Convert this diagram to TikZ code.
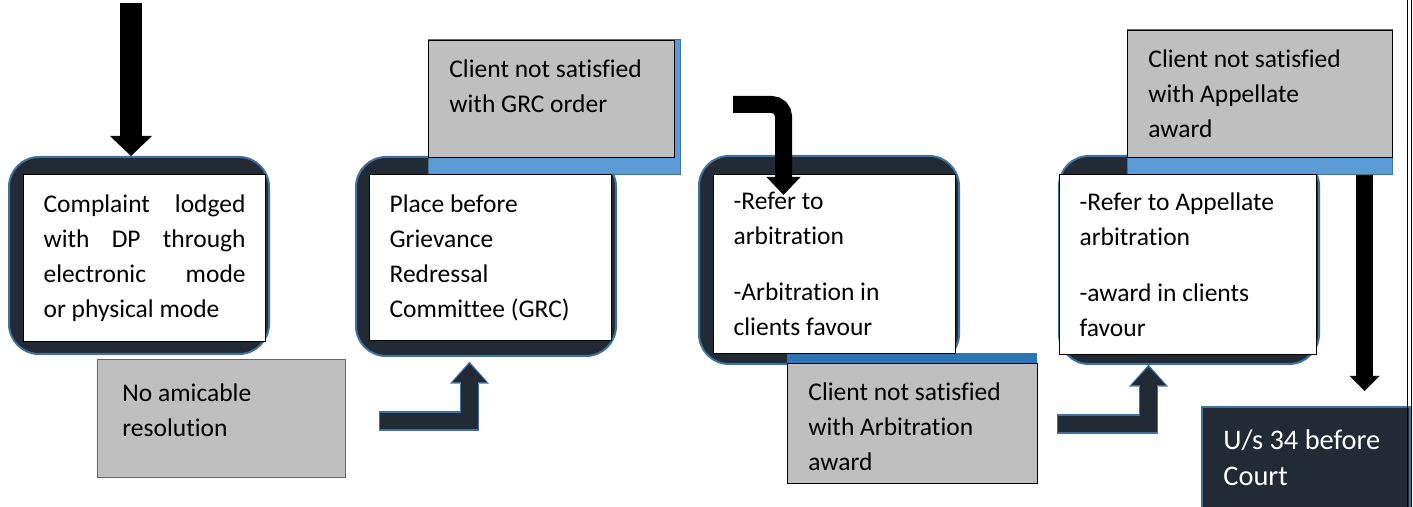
\documentclass[tikz,border=0pt]{standalone}
\usepackage{fontspec}
\setmainfont{Carlito}[Ligatures={NoCommon,NoContextual}]
\usetikzlibrary{arrows.meta}
\definecolor{panel}{HTML}{222A35}
\definecolor{rim}{HTML}{41719C}
\definecolor{strip}{HTML}{5B9BD5}
\definecolor{stripdark}{HTML}{2E75B6}
\definecolor{shade}{HTML}{BFBFBF}

\begin{document}
\begin{tikzpicture}[x=0.5pt,y=-0.5pt,
    font=\fontsize{12.75pt}{17.5pt}\selectfont,
    back/.style={draw=rim, line width=1pt, fill=panel, rounded corners=15pt,
      minimum width=130pt, anchor=north west, inner sep=0pt},
    card/.style={draw=black, line width=0.6pt, fill=white, anchor=north west,
      inner xsep=10pt, text width=101pt, align=flush left},
    note/.style={draw=black, line width=0.6pt, fill=shade, anchor=north west, inner sep=0pt},
    notetext/.style={anchor=north west, inner sep=0pt, align=flush left, xshift=10.5pt, yshift=-9.5pt},
    bigarrow/.style={draw=black, line join=miter},
    bentarrow/.style={draw=panel, line width=8.25pt, line join=miter,
      -{Triangle[width=17pt,length=9pt,line width=0pt]},
      preaction={draw=rim, line width=9.75pt, shorten <=-0.75pt, shorten >=-1.2pt,
        -{Triangle[width=19.5pt,length=11pt,line width=0pt]}}}]
  \clip (0,0) rectangle (1413,507);

  \node[back, minimum height=98.5pt] (back1) at (8,156) {};
  \node[back, minimum height=99.5pt] (back2) at (355,156) {};
  \node[back, minimum height=104pt] (back3) at (698,155) {};
  \node[back, minimum height=104pt] (back4) at (1058,155) {};

  \filldraw[fill=strip, draw=rim, line width=0.5pt] (428,40) rectangle (680,175);
  \fill[stripdark] (787,353) rectangle (1037,483);
  \filldraw[fill=strip, draw=rim, line width=0.5pt] (1127,30) rectangle (1392,175);

  \node[card, minimum height=83.5pt] (card1) at (23,174)
    {Complaint\hfill lodged\\with\hfill DP\hfill through\\electronic\hfill mode\\or physical mode};
  \node[card, minimum height=83pt] (card2) at (369,174)
    {Place before\\Grievance\\Redressal\\Committee (GRC)};
  \node[card, minimum height=89.5pt] (card3) at (713,174)
    {-Refer to\\arbitration\\[10.5pt]-Arbitration in\\clients favour};
  \node[card, minimum height=90pt, text width=108.5pt] (card4) at (1059,174)
    {-Refer to Appellate\\arbitration\\[10.5pt]-award in clients\\favour};

  \node[note, draw=rim, minimum width=124pt, minimum height=59pt,
    label={[notetext, xshift=2pt, yshift=-2.5pt]north west:No amicable\\resolution}] (noamic) at (97,359) {};
  \node[note, minimum width=123pt, minimum height=58.5pt,
    label={[notetext]north west:Client not satisfied\\with GRC order}] (grc) at (428,40) {};
  \node[note, minimum width=125pt, minimum height=60pt,
    label={[notetext]north west:Client not satisfied\\with Arbitration\\award}] (arbaward) at (787,363) {};
  \node[note, minimum width=132.5pt, minimum height=63.5pt,
    label={[notetext]north west:Client not satisfied\\with Appellate\\award}] (appaward) at (1127,30) {};
  \node[note, fill=panel, draw=rim, line width=1pt, minimum width=104pt, minimum height=60pt,
    label={[notetext, text=white, xshift=0.5pt, yshift=-2pt,
      font=\fontsize{14.2pt}{18pt}\selectfont]north west:U/s 34 before\\Court}] (court) at (1201,406) {};

  \coordinate (src) at (131,3);
  \draw[bigarrow, line width=10.75pt, -{Triangle[width=21pt,length=10pt,line width=0pt]}]
    (src) -- (src |- back1.north);

  \coordinate (bend1) at (380,421);
  \coordinate (up1) at (469.5,364);
  \draw[bentarrow] (bend1) -| (up1);

  \coordinate (arbin) at (733,104.5);
  \coordinate (arbout) at (783.5,195);
  \draw[bigarrow, line width=8.5pt, rounded corners=6pt,
    -{Triangle[width=17pt,length=9pt,line width=0pt]}] (arbin) -| (arbout);

  \coordinate (bend2) at (1058,424);
  \coordinate (up2) at (1148.5,367);
  \draw[bentarrow] (bend2) -| (up2);

  \coordinate (appout) at (1364.5,175);
  \draw[bigarrow, line width=8.5pt, shorten >=7.5pt,
    -{Triangle[width=15pt,length=7.5pt,line width=0pt]}] (appout) -- (appout |- court.north);

  \draw[line width=0.6pt] (1407.5,0) -- (1407.5,507) (1411.5,0) -- (1411.5,507);
\end{tikzpicture}
\end{document}
